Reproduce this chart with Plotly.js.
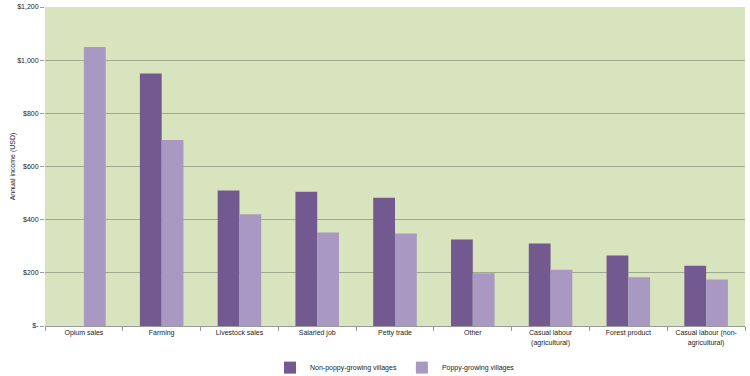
<!DOCTYPE html>
<html><head><meta charset="utf-8">
<script src="https://cdn.plot.ly/plotly-3.0.1.min.js"></script>
<style>html,body{margin:0;padding:0;background:#fff}#c{width:750px;height:376px}</style>
</head><body><div id="c"></div>
<script>
const categories = ["Opium sales","Farming","Livestock sales","Salaried job","Petty trade","Other","Casual labour<br>(agricultural)","Forest product","Casual labour (non-<br>agricultural)"];
const nonPoppy = [0, 950, 510, 505, 482, 325, 310, 265, 227];
const poppy = [1050, 700, 420, 352, 348, 198, 212, 183, 175];
const yTickVals = [0, 200, 400, 600, 800, 1000, 1200];
const yTickText = ["$-", "$200", "$400", "$600", "$800", "$1,000", "$1,200"];

const font = {family: "Liberation Sans Narrow, Liberation Sans, Arial, sans-serif", size: 7, color: "#222"};
const traces = [
  {type: "bar", name: "Non-poppy-growing villages", x: categories, y: nonPoppy, marker: {color: "#725990"}},
  {type: "bar", name: "Poppy-growing villages", x: categories, y: poppy, marker: {color: "#a898c2"}}
];
const layout = {
  width: 750, height: 376,
  margin: {l: 45, r: 5, t: 7, b: 50, autoexpand: false},
  paper_bgcolor: "#ffffff",
  plot_bgcolor: "#d8e4bd",
  barmode: "group", bargap: 0.44, bargroupgap: 0,
  font: font,
  showlegend: true,
  legend: {orientation: "h", x: 0.5, xanchor: "center", y: -0.085, yanchor: "top", font: font, itemwidth: 30, traceorder: "normal"},
  xaxis: {showgrid: false, showline: true, linecolor: "#9a9a9a", linewidth: 1, ticks: "outside", ticklen: 4, tickcolor: "#9a9a9a", tickson: "boundaries", tickfont: font, fixedrange: true, automargin: false},
  yaxis: {range: [0, 1200], tickvals: yTickVals, ticktext: yTickText, showgrid: true, gridcolor: "#9fa98c", gridwidth: 1, zeroline: false, showline: false, ticks: "outside", ticklen: 4, tickcolor: "#9a9a9a", tickfont: font, automargin: false,
    title: {text: "Annual income (USD)", font: font, standoff: 0}}
};
Plotly.newPlot("c", traces, layout, {staticPlot: true, displayModeBar: false});
</script></body></html>
